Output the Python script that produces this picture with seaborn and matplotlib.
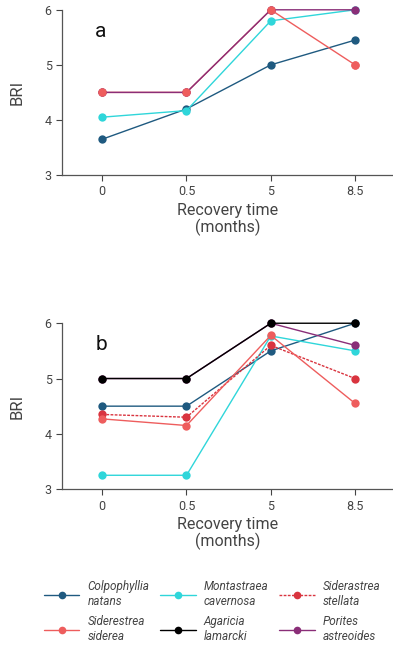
import matplotlib
matplotlib.use("Agg")
import matplotlib.pyplot as plt
from matplotlib.lines import Line2D
import seaborn as sns
import pandas as pd
import numpy as np

sns.set_style("ticks")
plt.rcParams['font.family'] = ['Roboto', 'DejaVu Sans']

times = ["0", "0.5", "5", "8.5"]
species = ["Colpophyllia\nnatans", "Montastraea\ncavernosa", "Siderastrea\nstellata",
           "Siderestrea\nsiderea", "Agaricia\nlamarcki", "Porites\nastreoides"]
colors = ["#1f5a80", "#2fd6da", "#d9343f", "#ee5d5d", "#000000", "#8a2e78"]
dashed = [False, False, True, False, False, False]

# panel a (only four species measured)
a_colpo = [3.65, 4.2, 5.0, 5.45]
a_monta = [4.05, 4.17, 5.8, 6.0]
a_porit = [4.5, 4.5, 6.0, 6.0]
a_sider = [4.5, 4.5, 6.0, 5.0]

# panel b
b_colpo = [4.5, 4.5, 5.5, 6.0]
b_monta = [3.25, 3.25, 5.77, 5.5]
b_stell = [4.35, 4.3, 5.6, 5.0]
b_sider = [4.27, 4.15, 5.78, 4.55]
b_porit = [5.0, 5.0, 6.0, 5.6]
b_agari = [5.0, 5.0, 6.0, 6.0]

panel_a = [(0, a_colpo), (1, a_monta), (3, a_sider), (5, a_porit)]
panel_b = [(0, b_colpo), (1, b_monta), (2, b_stell), (3, b_sider), (5, b_porit), (4, b_agari)]

text_col = "#444444"
fig = plt.figure(figsize=(3.93, 6.53), dpi=100)
ax_a = fig.add_axes([0.158, 0.732, 0.842, 0.253])
ax_b = fig.add_axes([0.158, 0.251, 0.842, 0.254])

for ax, panel, letter in [(ax_a, panel_a, "a"), (ax_b, panel_b, "b")]:
    for idx, vals in panel:
        df = pd.DataFrame({"t": np.arange(len(times)), "bri": vals})
        sns.lineplot(data=df, x="t", y="bri", ax=ax, color=colors[idx], lw=1,
                     linestyle=(0, (2, 1)) if dashed[idx] else "-",
                     marker="o", markersize=6, markeredgewidth=0, clip_on=False)
    if ax is ax_a:
        # siderea dots sit on top of the porites line in panel a
        sns.scatterplot(x=np.arange(len(times)), y=a_sider, ax=ax, color=colors[3],
                        s=36, linewidth=0, zorder=5, clip_on=False)
    ax.set_xlim(-0.476, 3.45)
    ax.set_ylim(3, 6)
    ax.set_xticks(range(len(times)))
    ax.set_xticklabels(times)
    ax.set_yticks([3, 4, 5, 6])
    ax.set_xlabel("Recovery time\n(months)", fontsize=11.5, color=text_col, labelpad=3, linespacing=1.05)
    ax.set_ylabel("BRI", fontsize=12, color=text_col, labelpad=14)
    ax.tick_params(labelsize=9, colors=text_col, length=4, width=0.8)
    for s in ["left", "bottom"]:
        ax.spines[s].set_color("#555555")
        ax.spines[s].set_linewidth(0.9)
    sns.despine(ax=ax)
    ax.text(0.1, 0.87, letter, transform=ax.transAxes, fontsize=15, color="#111111", va="center")

handles = [Line2D([0], [0], color=colors[i], lw=1, linestyle=(0, (2, 1)) if dashed[i] else "-",
                  marker="o", markersize=5.5, markeredgewidth=0) for i in range(len(species))]
order = [0, 3, 1, 4, 2, 5]
fig.legend([handles[i] for i in order], [species[i] for i in order], ncol=3,
           loc="center", bbox_to_anchor=(0.54, 0.064), frameon=False,
           prop={"style": "italic", "size": 8.5}, handlelength=3.0, columnspacing=0.9,
           labelspacing=0.6, handletextpad=0.7, labelcolor=text_col)

fig.savefig("out.png", dpi=100)
